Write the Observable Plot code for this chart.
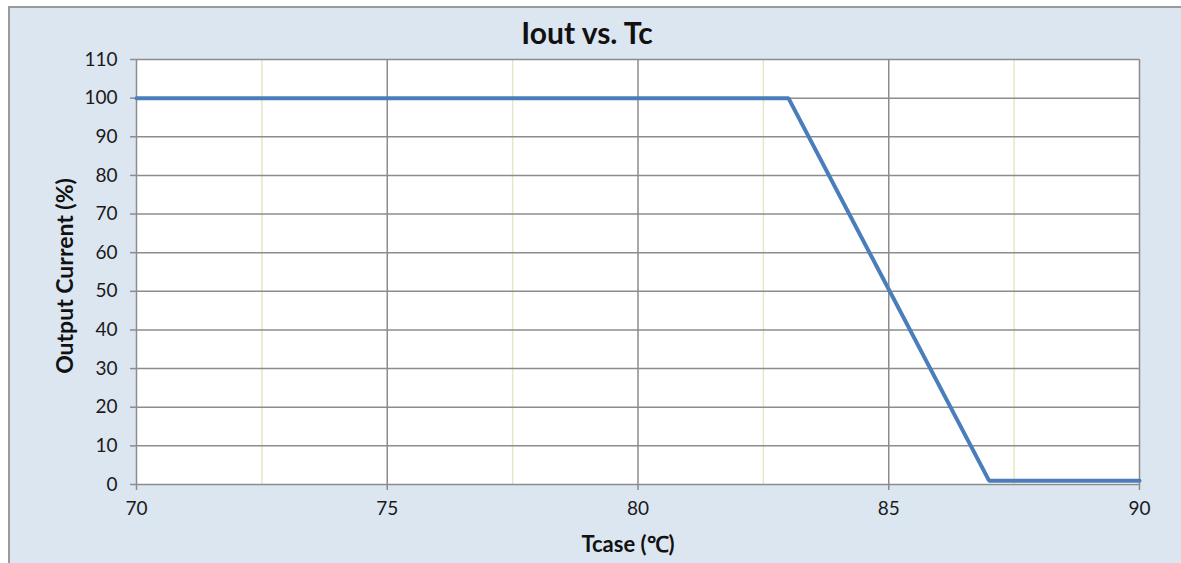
<!DOCTYPE html>
<html>
<head>
<meta charset="utf-8">
<script src="https://cdn.jsdelivr.net/npm/d3@7"></script>
<script src="https://cdn.jsdelivr.net/npm/@observablehq/plot@0.6"></script>
<style>
  html, body { margin: 0; padding: 0; background: #ffffff; }
  #wrap { position: absolute; left: 0; top: 0; width: 1181px; height: 563px; overflow: hidden; }
  #frame { position: absolute; left: 8px; top: 6px; width: 1181px; height: 563px; background: #dce6f1;
           border-top: 2px solid #9a9a9a; border-left: 2px solid #9a9a9a; }
  #chart { position: absolute; left: 0; top: 0; }
</style>
</head>
<body>
<div id="wrap"><div id="frame"></div><div id="chart"></div></div>
<script>
const temps = [70, 83, 87, 90];
const currents = [100, 100, 1, 1];
const xTicks = [70, 75, 80, 85, 90];
const xMinor = [72.5, 77.5, 82.5, 87.5];
const yTicks = [0, 10, 20, 30, 40, 50, 60, 70, 80, 90, 100, 110];
const title = "Iout vs. Tc";
const xLabel = "Tcase (℃)";
const yLabel = "Output Current (%)";

const data = temps.map((t, i) => ({t, c: currents[i]}));
const font = "Lato, 'Open Sans', sans-serif";

const plot = Plot.plot({
  width: 1181,
  height: 563,
  marginLeft: 136,
  marginRight: 42,
  marginTop: 59,
  marginBottom: 79,
  style: {background: "transparent", fontFamily: font, fontSize: "19px", color: "#1a1a1a"},
  x: {domain: [70, 90]},
  y: {domain: [0, 110]},
  marks: [
    Plot.frame({fill: "white", stroke: null}),
    Plot.ruleX(xMinor, {stroke: "#e6e6c4", strokeWidth: 1.5}),
    Plot.ruleY(yTicks, {stroke: "#8c8c8c", strokeWidth: 1.5}),
    Plot.ruleX(xTicks, {stroke: "#8c8c8c", strokeWidth: 1.5}),
    Plot.axisY({ticks: yTicks, tickSize: 6, tickPadding: 13, label: null, stroke: "#8c8c8c", strokeWidth: 1.5,
                fontSize: 19, fill: "#1a1a1a"}),
    Plot.axisX({ticks: xTicks, tickSize: 6, tickPadding: 11, label: null, stroke: "#8c8c8c", strokeWidth: 1.5,
                fontSize: 19, fill: "#1a1a1a"}),
    Plot.line(data, {x: "t", y: "c", stroke: "#4a7ebb", strokeWidth: 4, strokeLinejoin: "miter"}),
    Plot.text([title], {frameAnchor: "top", lineAnchor: "middle", dx: -51, dy: -25, fontSize: 30, fontWeight: "bold", fill: "#111"}),
    Plot.text([xLabel], {frameAnchor: "bottom", lineAnchor: "middle", dx: -10, dy: 60, fontSize: 22, fontWeight: "bold", fill: "#111"}),
    Plot.text([yLabel], {frameAnchor: "left", textAnchor: "middle", dx: -71, dy: 4, rotate: -90, fontSize: 23, fontWeight: "bold", fill: "#111"})
  ]
});
document.getElementById("chart").appendChild(plot);
</script>
</body>
</html>
